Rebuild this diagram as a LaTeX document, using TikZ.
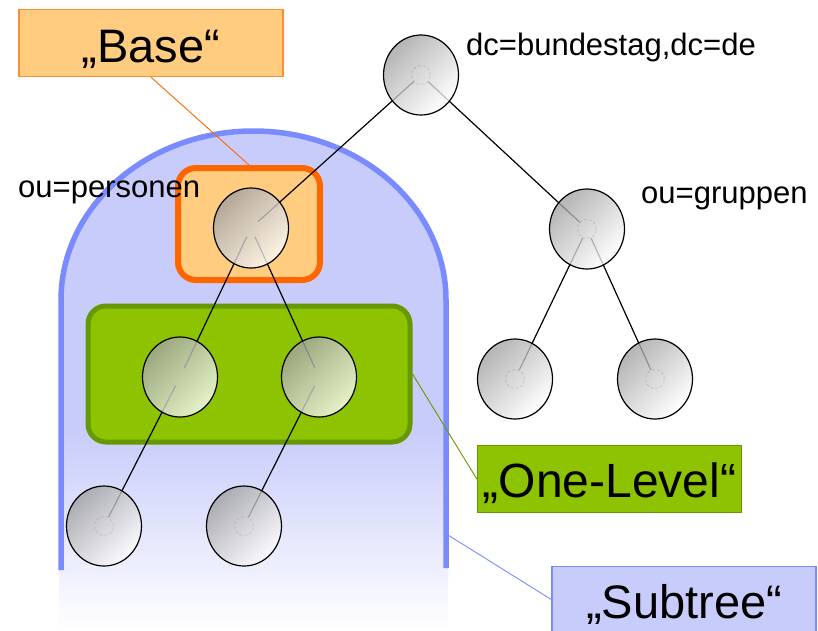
\documentclass[tikz,border=0pt]{standalone}
\usepackage{fontspec}
\setmainfont{Liberation Sans}
\usetikzlibrary{shapes.geometric}
\definecolor{subfill}{RGB}{200,204,250}
\definecolor{subedge}{RGB}{122,139,255}
\definecolor{basefill}{RGB}{255,204,128}
\definecolor{baseedge}{RGB}{255,102,0}
\definecolor{tagedge}{RGB}{255,140,50}
\definecolor{levelfill}{RGB}{141,195,0}
\definecolor{leveledge}{RGB}{102,153,0}
\begin{document}
\begin{tikzpicture}[x=1pt, y=-1pt,
    obj/.style={ellipse, minimum width=75, minimum height=80, inner sep=0, draw, line width=1.2,
        top color=gray!75, bottom color=white, shading angle=45, fill opacity=0.78},
    hub/.style={circle, minimum size=19, inner sep=0, draw=gray!90, line width=0.8, densely dashed},
    nohub/.style={circle, minimum size=19, inner sep=0},
    link/.style={line width=1.2, black},
    frame/.style={rounded corners=18, inner sep=0},
    small/.style={inner sep=0, anchor=base west, font=\fontsize{31}{36}\selectfont},
    tag/.style={inner sep=0, anchor=north, minimum width=264, line width=1.2,
        font=\fontsize{47}{56}\selectfont},
    pointer/.style={line width=0.9}]
    \useasboundingbox (0,0) rectangle (818,630);

    \fill[subfill] (61,300) arc[start angle=180, end angle=360, x radius=192.5, y radius=169]
        -- (448,430) -- (59,430) -- cycle;
    \shade[top color=subfill, bottom color=white] (59,430) rectangle (448,630);
    \draw[subedge, line width=5.5] (61,570) -- (61,300)
        arc[start angle=180, end angle=360, x radius=192.5, y radius=169] -- (446,568);
    \coordinate (archpt) at (448,535);

    \node[frame, draw=baseedge, line width=6, fill=basefill, minimum width=142, minimum height=112]
        (baseframe) at (249,224) {};
    \node[frame, draw=leveledge, line width=5, fill=levelfill, minimum width=322, minimum height=136]
        (levelframe) at (249,374) {};

    \foreach \n/\x/\y/\s in {root/421/75/hub, pers/251/228/nohub, grp/587/229/hub,
        pa/180/377/nohub, pb/319/377/nohub, ga/515/379/hub, gb/655/379/hub,
        la/104/526/hub, lb/244/526/hub}
        \node[\s] (\n-c) at (\x,\y) {};

    \draw[link] (root-c) -- (pers-c) (root-c) -- (grp-c)
        (pers-c) -- (pa-c) (pers-c) -- (pb-c)
        (pa-c) -- (la-c) (pb-c) -- (lb-c)
        (grp-c) -- (ga-c) (grp-c) -- (gb-c);

    \foreach \n in {root, pers, grp, pa, pb, ga, gb, la, lb}
        \node[obj] (\n) at (\n-c) {};

    \node[small] (dcname) at (466,55) {dc=bundestag,dc=de};
    \node[small] (persname) at (18,197) {ou=personen};
    \node[small] (grpname) at (641,203) {ou=gruppen};

    \node[tag, fill=basefill, draw=tagedge, text height=53, text depth=14] (basetag) at (151,9) {„Base“};
    \node[tag, fill=levelfill, draw=leveledge, text height=52, text depth=15,
        font=\fontsize{48}{56}\selectfont] (leveltag) at (609.5,445) {„One-Level“};
    \node[tag, fill=subfill, draw=subedge, text height=52, text depth=14] (subtag) at (684,566) {„Subtree“};

    \draw[pointer, baseedge] (basetag.south) -- (baseframe.north);
    \draw[pointer, leveledge] (levelframe.east) -- (leveltag.west);
    \draw[pointer, subedge] (archpt) -- (subtag.west);
\end{tikzpicture}
\end{document}
